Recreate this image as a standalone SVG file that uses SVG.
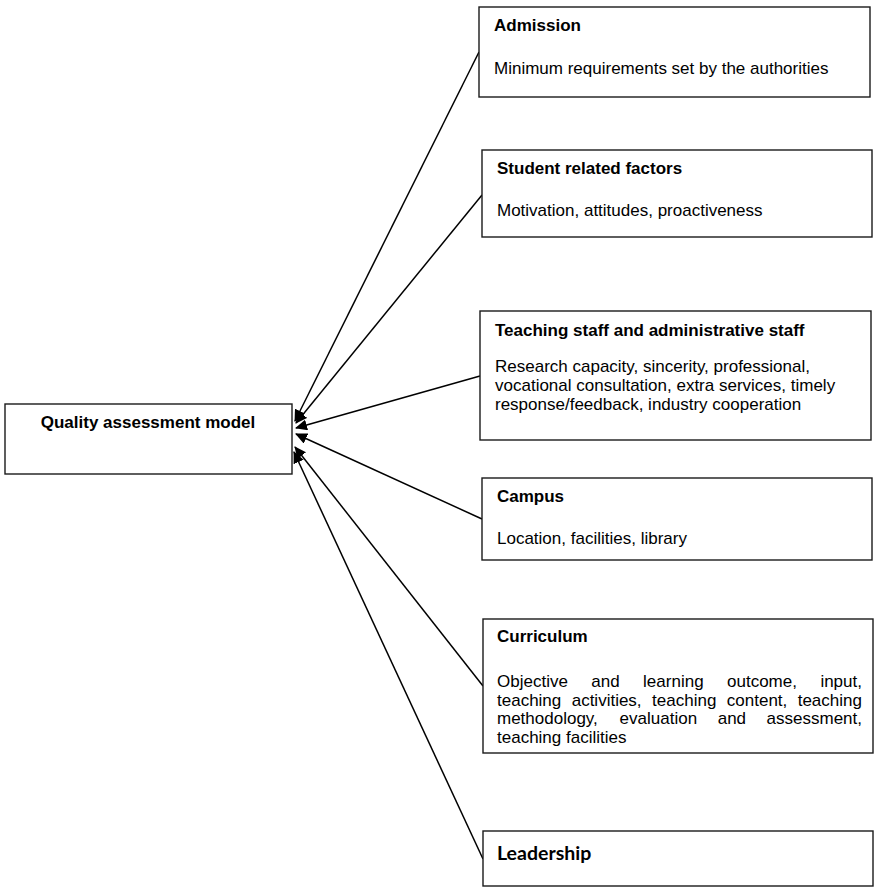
<svg xmlns="http://www.w3.org/2000/svg" width="880" height="891" viewBox="0 0 880 891">
<style>
.box{fill:#fff;stroke:#1a1a1a;stroke-width:1.4}
.t{font-family:"Liberation Sans",Arial,sans-serif;font-size:17px;font-weight:bold;fill:#000}
.b{font-family:"Liberation Sans",Arial,sans-serif;font-size:17px;fill:#000}
.c{stroke:#000;stroke-width:1.5;fill:none;marker-end:url(#ah)}
</style>
<defs>
<marker id="ah" viewBox="0 0 12 11" refX="11" refY="5.5" markerWidth="12" markerHeight="11" markerUnits="userSpaceOnUse" orient="auto">
<path d="M0,0 L12,5.5 L0,11 Z" fill="#000"/>
</marker>
</defs>
<g id="connectors">
<line class="c" x1="479" y1="52" x2="295" y2="421"/>
<line class="c" x1="482" y1="195" x2="296" y2="423"/>
<line class="c" x1="480" y1="376" x2="296" y2="428"/>
<line class="c" x1="482" y1="519" x2="296" y2="434"/>
<line class="c" x1="483" y1="686" x2="295" y2="447"/>
<line class="c" x1="483" y1="859" x2="294" y2="452"/>
</g>
<g id="quality">
<rect class="box" x="5" y="404" width="287" height="70"/>
<text class="t" x="148" y="428" text-anchor="middle">Quality assessment model</text>
</g>
<g id="admission">
<rect class="box" x="479" y="7" width="391" height="90"/>
<text class="t" x="494" y="31">Admission</text>
<text class="b" x="494" y="74">Minimum requirements set by the authorities</text>
</g>
<g id="student">
<rect class="box" x="482" y="150" width="390" height="87"/>
<text class="t" x="497" y="174">Student related factors</text>
<text class="b" x="497" y="216">Motivation, attitudes, proactiveness</text>
</g>
<g id="teaching">
<rect class="box" x="480" y="311" width="391" height="129"/>
<text class="t" x="495" y="336">Teaching staff and administrative staff</text>
<text class="b" x="495" y="372">Research capacity, sincerity, professional,</text>
<text class="b" x="495" y="391">vocational consultation, extra services, timely</text>
<text class="b" x="495" y="410">response/feedback, industry cooperation</text>
</g>
<g id="campus">
<rect class="box" x="482" y="478" width="390" height="82"/>
<text class="t" x="497" y="502">Campus</text>
<text class="b" x="497" y="544">Location, facilities, library</text>
</g>
<g id="curriculum">
<rect class="box" x="483" y="619" width="390" height="134"/>
<text class="t" x="497" y="642">Curriculum</text>
<text class="b" y="687"><tspan x="497">Objective</tspan><tspan x="591.3">and</tspan><tspan x="643.1">learning</tspan><tspan x="727">outcome,</tspan><tspan x="820.4">input,</tspan></text>
<text class="b" y="705.5"><tspan x="497">teaching</tspan><tspan x="571.7">activities,</tspan><tspan x="652.1">teaching</tspan><tspan x="726.8">content,</tspan><tspan x="797.7">teaching</tspan></text>
<text class="b" y="724"><tspan x="497">methodology,</tspan><tspan x="619.6">evaluation</tspan><tspan x="717.7">and</tspan><tspan x="766.6">assessment,</tspan></text>
<text class="b" x="497" y="742.5">teaching facilities</text>
</g>
<g id="leadership">
<rect class="box" x="483" y="831" width="390" height="55"/>
<text x="497" y="860" style="font-family:Lato,'Open Sans',sans-serif;font-size:19.5px;font-weight:bold;fill:#000">Leadership</text>
</g>
</svg>
